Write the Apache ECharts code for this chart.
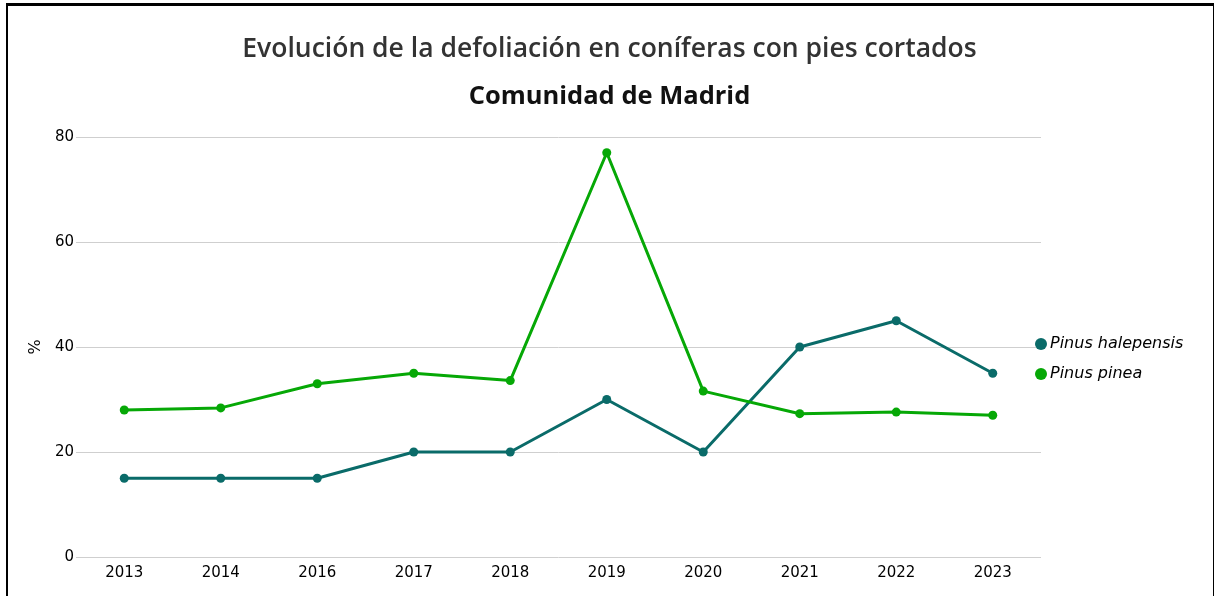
<!DOCTYPE html>
<html>
<head>
<meta charset="utf-8">
<script src="https://cdn.jsdelivr.net/npm/echarts@6/dist/echarts.min.js"></script>
<style>
  html, body { margin: 0; padding: 0; background: #fff; }
  #chart { position: absolute; left: 0; top: 0; width: 1219px; height: 596px; }
  #frame { position: absolute; left: 6px; top: 3px; width: 1205px; height: 620px;
           border-top: 3px solid #000; border-left: 2px solid #000; border-right: 1px solid #000;
           pointer-events: none; }
</style>
</head>
<body>
<div id="chart"></div>
<div id="frame"></div>
<script>
// años (falta 2015 en el original)
const years = ["2013", "2014", "2016", "2017", "2018", "2019", "2020", "2021", "2022", "2023"];
const halepensis = [15, 15, 15, 20, 20, 30, 20, 40, 45, 35];
const pinea = [28, 28.4, 33, 35, 33.6, 77, 31.6, 27.3, 27.6, 27];

const chart = echarts.init(document.getElementById("chart"));
const font = "DejaVu Sans";
const titleFont = "Open Sans";

chart.setOption({
  animation: false,
  title: [
    {
      text: "Evolución de la defoliación en coníferas con pies cortados",
      left: "center",
      top: 31,
      textStyle: { fontFamily: titleFont, fontSize: 26.5, fontWeight: 600, color: "#333" }
    },
    {
      text: "Comunidad de Madrid",
      left: "center",
      top: 79,
      textStyle: { fontFamily: titleFont, fontSize: 25.5, fontWeight: "bold", color: "#111" }
    }
  ],
  legend: {
    orient: "vertical",
    left: 1030,
    top: 331,
    itemGap: 14,
    itemWidth: 12,
    itemHeight: 12,
    icon: "circle",
    textStyle: { fontFamily: font, fontSize: 16, fontStyle: "italic", color: "#000", padding: [0, 0, 0, -2] },
    data: ["Pinus halepensis", "Pinus pinea"]
  },
  grid: { left: 76, right: 178, top: 137, bottom: 39 },
  xAxis: {
    type: "category",
    data: years,
    boundaryGap: true,
    axisLine: { show: false },
    axisTick: { show: false },
    axisLabel: { fontFamily: font, fontSize: 15, color: "#000", margin: 9 }
  },
  yAxis: {
    type: "value",
    min: 0,
    max: 80,
    interval: 20,
    name: "%",
    nameLocation: "middle",
    nameGap: 31,
    nameRotate: 90,
    nameTextStyle: { fontFamily: font, fontSize: 16, color: "#000" },
    axisLabel: { fontFamily: font, fontSize: 15, color: "#000", margin: 2 },
    splitLine: { lineStyle: { color: "#cfcfcf", width: 1 } }
  },
  series: [
    {
      name: "Pinus halepensis",
      type: "line",
      data: halepensis,
      color: "#0a6b69",
      symbol: "circle",
      symbolSize: 9,
      lineStyle: { width: 3 }
    },
    {
      name: "Pinus pinea",
      type: "line",
      data: pinea,
      color: "#06a806",
      symbol: "circle",
      symbolSize: 9,
      lineStyle: { width: 3 }
    }
  ]
});
</script>
</body>
</html>
